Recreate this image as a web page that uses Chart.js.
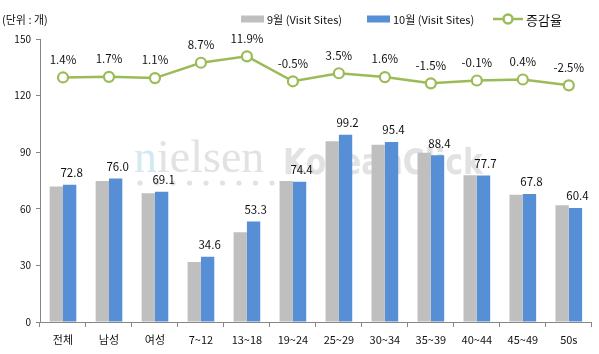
<!DOCTYPE html>
<html>
<head>
<meta charset="utf-8">
<script src="https://cdn.jsdelivr.net/npm/chart.js@4"></script>
<style>
  body { margin: 0; background: #fff; }
  #wrap { position: relative; width: 599px; height: 354px; }
</style>
</head>
<body>
<div id="wrap"><canvas id="visitChart" width="599" height="354"></canvas></div>
<script>
// Data
const categories = ['전체', '남성', '여성', '7~12', '13~18', '19~24', '25~29', '30~34', '35~39', '40~44', '45~49', '50s'];
const sepVisits = [71.8, 74.7, 68.3, 31.8, 47.6, 74.8, 95.8, 93.9, 89.7, 77.8, 67.5, 61.9];
const octVisits = [72.8, 76.0, 69.1, 34.6, 53.3, 74.4, 99.2, 95.4, 88.4, 77.7, 67.8, 60.4];
const growthRates = [1.4, 1.7, 1.1, 8.7, 11.9, -0.5, 3.5, 1.6, -1.5, -0.1, 0.4, -2.5];
const yTicks = [0, 30, 60, 90, 120, 150];

const FONT = '"Noto Sans CJK KR", "Noto Sans", sans-serif';
const GRAY = '#bfbfbf';
const BLUE = '#568fd6';
const GREEN = '#9bbb59';
const AXIS = '#868686';

// faint watermark behind the bars
const watermark = {
    id: 'watermark',
    beforeDatasetsDraw(chart) {
        const ctx = chart.ctx;
        ctx.save();
        ctx.textBaseline = 'alphabetic';
        ctx.font = '46px "Liberation Serif", serif';
        ctx.fillStyle = '#d3e9f2';
        ctx.fillText('n', 134, 172);
        const nW = ctx.measureText('n').width;
        ctx.fillStyle = '#e2e2e2';
        ctx.fillText('ielsen', 134 + nW, 172);
        ctx.font = 'bold 36px "DejaVu Sans", sans-serif';
        ctx.fillStyle = '#e2e2e2';
        ctx.fillText('KoreanClick', 283, 174, 200);
        for (let i = 0; i < 9; i++) {
            ctx.beginPath();
            ctx.arc(140 + i * 16.5, 183, 2.6, 0, Math.PI * 2);
            ctx.fill();
        }
        ctx.restore();
    }
};

// value labels and legend
const labels = {
    id: 'labels',
    afterDatasetsDraw(chart) {
        const ctx = chart.ctx;
        ctx.save();
        ctx.fillStyle = '#111';
        ctx.textAlign = 'center';
        ctx.textBaseline = 'middle';
        ctx.font = '11.5px ' + FONT;
        chart.getDatasetMeta(1).data.forEach((bar, i) => {
            ctx.fillText(octVisits[i].toFixed(1), bar.x + 2, bar.y - 12);
        });
        chart.getDatasetMeta(2).data.forEach((pt, i) => {
            ctx.fillText(growthRates[i].toFixed(1) + '%', pt.x, pt.y - 18);
        });

        // unit
        ctx.textAlign = 'left';
        ctx.font = '11px ' + FONT;
        ctx.fillText('(단위 : 개)', 2, 20);

        // legend
        ctx.fillStyle = GRAY;
        ctx.fillRect(241, 15.5, 23, 7);
        ctx.fillStyle = '#111';
        ctx.fillText('9월 (Visit Sites)', 267, 20);
        ctx.fillStyle = BLUE;
        ctx.fillRect(367, 15.5, 23, 7);
        ctx.fillStyle = '#111';
        ctx.fillText('10월 (Visit Sites)', 393, 20);
        ctx.strokeStyle = GREEN;
        ctx.lineWidth = 2.5;
        ctx.beginPath();
        ctx.moveTo(493, 19);
        ctx.lineTo(523, 19);
        ctx.stroke();
        ctx.beginPath();
        ctx.arc(508, 19, 4.5, 0, Math.PI * 2);
        ctx.fillStyle = '#fff';
        ctx.fill();
        ctx.stroke();
        ctx.fillStyle = '#111';
        ctx.font = '13px ' + FONT;
        ctx.fillText('증감율', 526, 20);
        ctx.restore();
    }
};

new Chart(document.getElementById('visitChart'), {
    data: {
        labels: categories,
        datasets: [
            {
                type: 'bar', label: '9월 (Visit Sites)', data: sepVisits,
                backgroundColor: GRAY, yAxisID: 'y', order: 2,
                barPercentage: 1.0, categoryPercentage: 0.58
            },
            {
                type: 'bar', label: '10월 (Visit Sites)', data: octVisits,
                backgroundColor: BLUE, yAxisID: 'y', order: 2,
                barPercentage: 1.0, categoryPercentage: 0.58
            },
            {
                type: 'line', label: '증감율', data: growthRates,
                borderColor: GREEN, borderWidth: 2.5, tension: 0,
                pointRadius: 5, pointBorderWidth: 2.2,
                pointBackgroundColor: '#fff', pointBorderColor: GREEN,
                yAxisID: 'y1', order: 1
            }
        ]
    },
    options: {
        responsive: false,
        animation: false,
        devicePixelRatio: 1,
        layout: { padding: { top: 39, right: 4, left: 0, bottom: 0 } },
        plugins: { legend: { display: false }, tooltip: { enabled: false } },
        scales: {
            x: {
                offset: true,
                grid: { offset: true, drawOnChartArea: false, drawTicks: true, tickLength: 5, color: AXIS },
                border: { display: true, color: AXIS },
                ticks: { color: '#111', font: { family: FONT, size: 11 }, padding: 6, maxRotation: 0 },
                afterFit(scale) { scale.height = 32; }
            },
            y: {
                min: 0, max: 150,
                afterBuildTicks(scale) { scale.ticks = yTicks.map(v => ({ value: v })); },
                grid: { drawOnChartArea: false, drawTicks: true, tickLength: 4, color: AXIS },
                border: { display: true, color: AXIS },
                ticks: { color: '#111', font: { family: FONT, size: 10 }, padding: 5 },
                afterFit(scale) { scale.width = 40; }
            },
            y1: {
                display: false,
                min: -120, max: 20.5
            }
        }
    },
    plugins: [watermark, labels]
});
</script>
</body>
</html>
